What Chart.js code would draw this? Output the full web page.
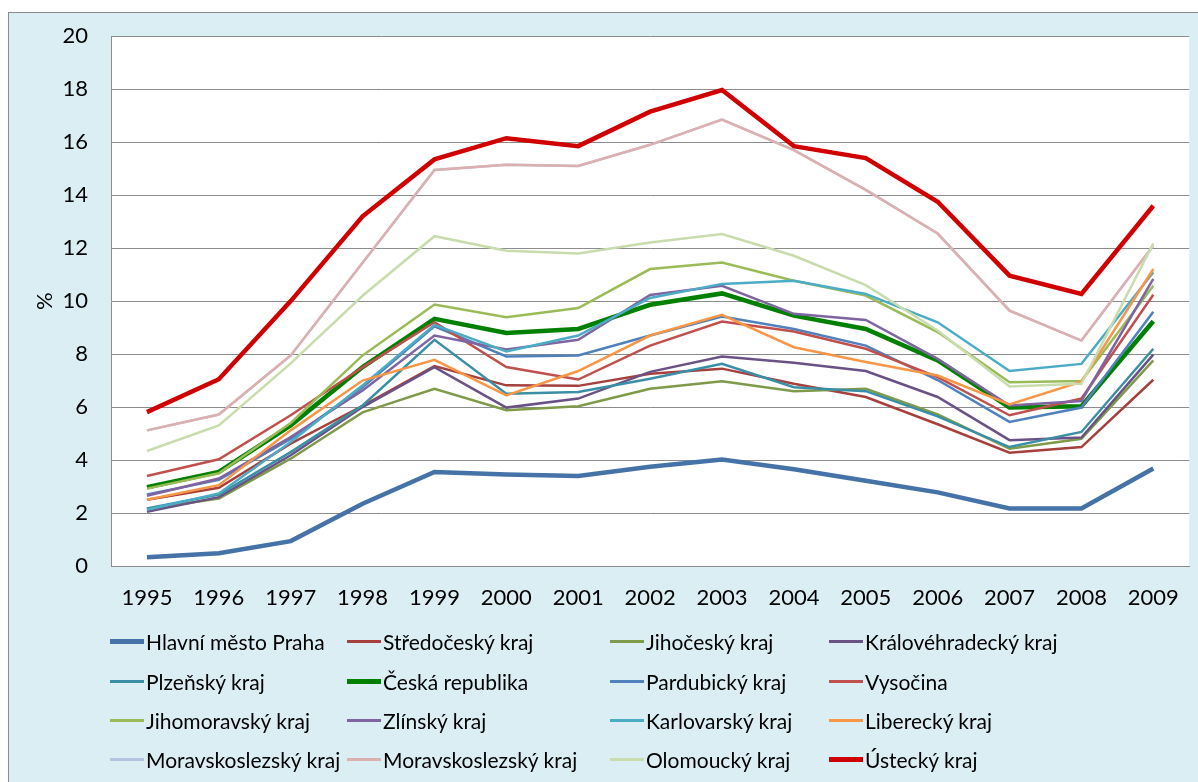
<!DOCTYPE html>
<html>
<head>
<meta charset="utf-8">
<script src="https://cdn.jsdelivr.net/npm/chart.js@4.4.1/dist/chart.umd.min.js"></script>
<style>
  html, body { margin: 0; padding: 0; background: #ffffff; }
  body { width: 1198px; height: 782px; position: relative; overflow: hidden; font-family: Lato, "Open Sans", sans-serif; }
  #frame { position: absolute; left: 8px; top: 12px; width: 1200px; height: 780px; background: #dbeef4; border: 1px solid #8c8c8c; box-sizing: border-box; }
  #wrap { position: absolute; left: 0; top: 0; width: 1198px; height: 612px; }
  #legend { position: absolute; left: 0; top: 0; width: 1198px; height: 782px; pointer-events: none; }
  .item { position: absolute; display: flex; align-items: center; font-size: 21px; color: #000; white-space: nowrap; height: 28px; }
  .item span.sw { display: inline-block; width: 34px; margin-right: 2px; }
</style>
</head>
<body>
<div id="frame"></div>
<div id="wrap"><canvas id="chart"></canvas></div>
<div id="legend"></div>
<script>
// roky
const years = ['1995', '1996', '1997', '1998', '1999', '2000', '2001', '2002', '2003', '2004', '2005', '2006', '2007', '2008', '2009'];

// míra nezaměstnanosti v %
const praha = [0.33, 0.48, 0.94, 2.35, 3.55, 3.45, 3.4, 3.75, 4.02, 3.65, 3.22, 2.78, 2.17, 2.17, 3.68];
const stredocesky = [2.5, 2.95, 4.62, 6.05, 7.55, 6.82, 6.8, 7.26, 7.45, 6.88, 6.38, 5.35, 4.28, 4.49, 7.03];
const jihocesky = [2.15, 2.55, 4.05, 5.8, 6.69, 5.88, 6.03, 6.69, 6.97, 6.6, 6.69, 5.72, 4.43, 4.8, 7.76];
const kralovehradecky = [2.05, 2.6, 4.18, 6.0, 7.51, 5.98, 6.32, 7.33, 7.91, 7.67, 7.36, 6.38, 4.75, 4.85, 7.98];
const plzensky = [2.17, 2.7, 4.3, 6.06, 8.54, 6.5, 6.57, 7.07, 7.63, 6.75, 6.6, 5.65, 4.49, 5.06, 8.2];
const ceskaRepublika = [2.97, 3.55, 5.31, 7.51, 9.33, 8.8, 8.95, 9.86, 10.29, 9.45, 8.95, 7.76, 5.98, 6.03, 9.24];
const pardubicky = [2.7, 3.25, 4.8, 6.75, 9.05, 7.91, 7.95, 8.7, 9.42, 8.95, 8.32, 7.02, 5.44, 5.98, 9.6];
const vysocina = [3.4, 4.03, 5.69, 7.5, 9.2, 7.51, 7.04, 8.32, 9.23, 8.85, 8.2, 7.13, 5.69, 6.32, 10.24];
const jihomoravsky = [2.92, 3.5, 5.4, 7.95, 9.87, 9.39, 9.74, 11.21, 11.46, 10.77, 10.21, 8.83, 6.94, 6.98, 10.58];
const zlinsky = [2.65, 3.3, 4.87, 6.63, 8.7, 8.17, 8.54, 10.23, 10.58, 9.52, 9.29, 7.82, 6.06, 6.23, 10.84];
const karlovarsky = [2.12, 2.74, 4.68, 6.82, 9.1, 8.1, 8.7, 10.12, 10.65, 10.77, 10.27, 9.2, 7.36, 7.63, 11.09];
const liberecky = [2.5, 3.05, 5.12, 7.0, 7.78, 6.44, 7.36, 8.7, 9.48, 8.26, 7.7, 7.19, 6.1, 6.96, 11.21];
const moravskoslezsky1 = [5.12, 5.72, 7.95, 11.45, 14.95, 15.15, 15.1, 15.9, 16.85, 15.7, 14.2, 12.55, 9.64, 8.51, 12.1];
const moravskoslezsky2 = [5.12, 5.72, 7.95, 11.45, 14.95, 15.15, 15.1, 15.9, 16.85, 15.7, 14.2, 12.55, 9.64, 8.51, 12.1];
const olomoucky = [4.34, 5.31, 7.65, 10.2, 12.45, 11.9, 11.8, 12.21, 12.53, 11.71, 10.6, 8.89, 6.78, 6.88, 12.18];
const ustecky = [5.81, 7.05, 10.0, 13.2, 15.35, 16.15, 15.85, 17.15, 17.97, 15.85, 15.4, 13.75, 10.96, 10.27, 13.6];

const names = ['Hlavní město Praha', 'Středočeský kraj', 'Jihočeský kraj', 'Královéhradecký kraj',
  'Plzeňský kraj', 'Česká republika', 'Pardubický kraj', 'Vysočina',
  'Jihomoravský kraj', 'Zlínský kraj', 'Karlovarský kraj', 'Liberecký kraj',
  'Moravskoslezský kraj', 'Moravskoslezský kraj', 'Olomoucký kraj', 'Ústecký kraj'];
const series = [praha, stredocesky, jihocesky, kralovehradecky, plzensky, ceskaRepublika, pardubicky, vysocina,
  jihomoravsky, zlinsky, karlovarsky, liberecky, moravskoslezsky1, moravskoslezsky2, olomoucky, ustecky];
const colors = ['#4572a7', '#a5403d', '#7f9a48', '#6a5384', '#3a8fa6', '#008000', '#4f81bd', '#c0504d',
  '#9bbb59', '#8064a2', '#4bacc6', '#f79646', '#b3c3e0', '#ddb0b0', '#c9dcad', '#d00000'];
const thick = [true, false, false, false, false, true, false, false, false, false, false, false, false, false, false, true];

let datasets = [];
for (let i = 0; i < series.length; i++) {
  datasets.push({
    label: names[i],
    data: series[i],
    borderColor: colors[i],
    backgroundColor: colors[i],
    borderWidth: thick[i] ? 4.5 : 2.5,
    pointRadius: 0,
    tension: 0,
    fill: false,
    order: series.length - i
  });
}

// bílá plocha grafu
const plotBg = {
  id: 'plotBg',
  beforeDraw(chart) {
    const a = chart.chartArea;
    const ctx = chart.ctx;
    ctx.save();
    ctx.fillStyle = '#ffffff';
    ctx.fillRect(a.left, a.top, a.right - a.left, a.bottom - a.top);
    ctx.restore();
  }
};

const canvas = document.getElementById('chart');
canvas.width = 1198;
canvas.height = 612;

new Chart(canvas, {
  type: 'line',
  data: { labels: years, datasets: datasets },
  plugins: [plotBg],
  options: {
    responsive: false,
    animation: false,
    layout: { padding: { top: 35, right: 5, left: 0, bottom: 0 } },
    plugins: { legend: { display: false }, tooltip: { enabled: false } },
    scales: {
      x: {
        offset: true,
        grid: { display: false, drawTicks: false },
        border: { display: true, color: '#8c8c8c', width: 1 },
        ticks: { color: '#000', font: { family: 'Lato', size: 22 }, padding: 19, maxRotation: 0, autoSkip: false },
        afterFit(scale) { scale.height = 46; }
      },
      y: {
        min: 0,
        max: 20,
        grid: { color: '#8c8c8c', lineWidth: 1, drawTicks: false },
        border: { display: true, color: '#8c8c8c', width: 1 },
        ticks: { stepSize: 2, color: '#000', font: { family: 'Lato', size: 22 }, padding: 23 },
        title: { display: true, text: '%', color: '#000', font: { family: 'Lato', size: 22 }, padding: { top: 32, bottom: 0 } },
        afterFit(scale) { scale.width = 111; }
      }
    }
  }
});

// legenda - 4 sloupce, řazeno po řádcích
const colX = [110, 347, 610, 829];
const rowY = [641, 681, 720, 759];
const legend = document.getElementById('legend');
for (let i = 0; i < names.length; i++) {
  let item = document.createElement('div');
  item.className = 'item';
  item.style.left = colX[i % 4] + 'px';
  item.style.top = (rowY[Math.floor(i / 4)] - 14) + 'px';
  let h = thick[i] ? 5 : 3;
  item.innerHTML = `<span class="sw" style="height:${h}px;background:${colors[i]}"></span><span>${names[i]}</span>`;
  legend.appendChild(item);
}
</script>
</body>
</html>
